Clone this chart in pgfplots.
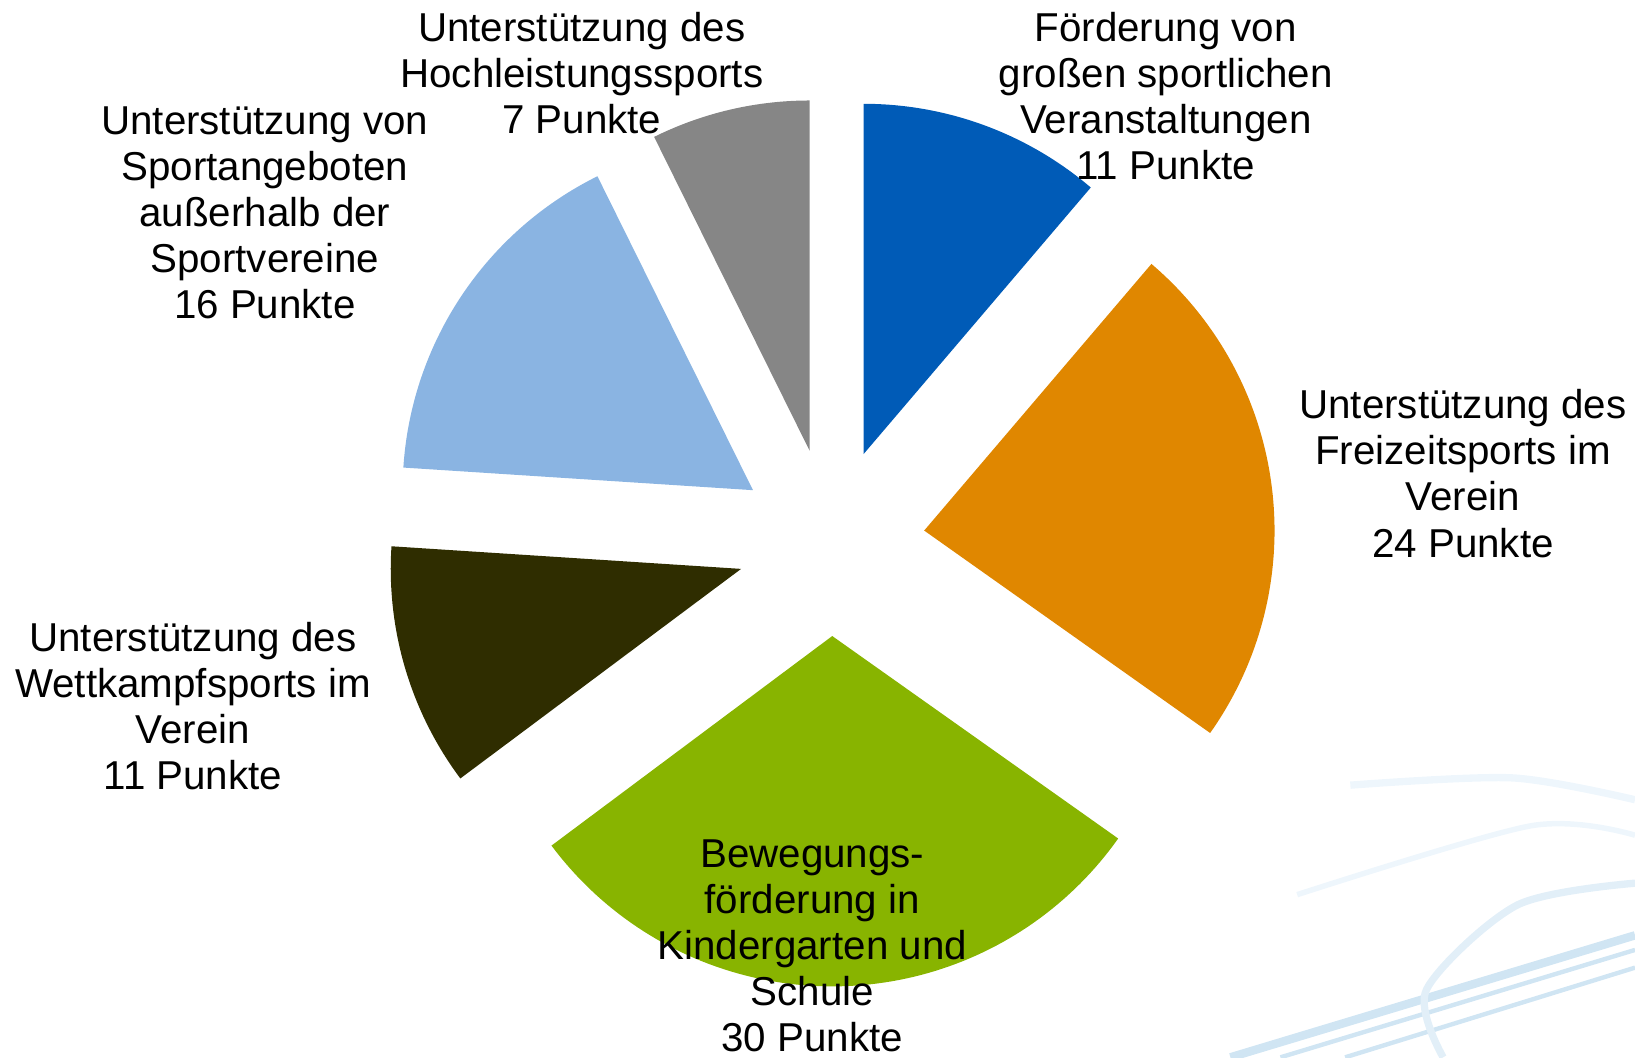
\documentclass[border=0pt]{standalone}
\usepackage{pgfplots}
\pgfplotsset{compat=1.18}
\usepackage{pgfplotstable}
\usepackage{fontspec}
\setmainfont{Liberation Sans}

\definecolor{cFoerd}{RGB}{0,91,183}
\definecolor{cFrei}{RGB}{224,135,0}
\definecolor{cBeweg}{RGB}{136,180,0}
\definecolor{cWett}{RGB}{47,45,0}
\definecolor{cAusser}{RGB}{138,180,226}
\definecolor{cHoch}{RGB}{134,134,134}
\definecolor{swA}{RGB}{208,229,243}
\definecolor{swB}{RGB}{226,239,248}
\definecolor{swC}{RGB}{238,246,252}

% slice sizes as drawn (labels show rounded points), clockwise from 12 o'clock
\pgfplotstableread{
value col
11.2 cFoerd
23.5 cFrei
29.9 cBeweg
11.2 cWett
16.6 cAusser
7.3 cHoch
}\piedata

\begin{document}
\begin{tikzpicture}[font=\fontsize{11}{12.6}\selectfont]
\begin{axis}[
    width=15.68cm, height=10.14cm, scale only axis,
    xmin=0, xmax=1568, ymin=0, ymax=1014,
    hide axis, clip=false,
]
\coordinate (ll) at (axis cs:0,0);
\coordinate (ur) at (axis cs:1568,1014);

% background swooshes
\draw[swA, line width=2.3pt] (axis cs:1180,0) -- (axis cs:1568,117);
\draw[swA, line width=1.2pt] (axis cs:1228,0) -- (axis cs:1568,103);
\draw[swA, line width=1.2pt] (axis cs:1290,0) -- (axis cs:1568,86);
\draw[swB, line width=2pt] plot[smooth] coordinates {(axis cs:1384,0) (axis cs:1368,65) (axis cs:1455,146) (axis cs:1568,167)};
\draw[swC, line width=2pt] plot[smooth] coordinates {(axis cs:1295,261) (axis cs:1450,268) (axis cs:1568,247)};
\draw[swC, line width=1.5pt] plot[smooth] coordinates {(axis cs:1244,156) (axis cs:1468,222) (axis cs:1568,213)};

% total
\def\tot{0}
\pgfplotsforeachungrouped \i in {0,...,5} {
  \pgfplotstablegetelem{\i}{value}\of\piedata
  \pgfmathsetmacro\tmp{\tot+\pgfplotsretval}
  \global\let\tot\tmp
}
% exploded pie
\def\cum{0}
\pgfplotsforeachungrouped \i in {0,...,5} {
  \pgfplotstablegetelem{\i}{value}\of\piedata \let\v\pgfplotsretval
  \pgfplotstablegetelem{\i}{col}\of\piedata \let\col\pgfplotsretval
  \pgfmathsetmacro\ts{\cum*(360/\tot)}
  \pgfmathsetmacro\cumnew{\cum+\v}
  \pgfmathsetmacro\te{\cumnew*(360/\tot)}
  \pgfmathsetmacro\ma{90-\te}
  \pgfmathsetmacro\mb{90-\ts}
  \pgfmathsetmacro\mm{90-(\ts+\te)/2}
  \pgfmathsetmacro\ox{797+90*cos(\mm)}
  \pgfmathsetmacro\oy{494+90*sin(\mm)}
  \edef\doslice{\noexpand\addplot[fill=\col, draw=none, domain=\ma:\mb, samples=90]
    ({\ox+336*cos(x)},{\oy+336*sin(x)}) -- (axis cs:\ox,\oy) -- cycle;}
  \doslice
  \global\let\cum\cumnew
}

\node[align=center, inner sep=0pt] at (axis cs:1118,922) {Förderung von\\großen sportlichen\\Veranstaltungen\\11 Punkte};
\node[align=center, inner sep=0pt] at (axis cs:1403,560) {Unterstützung des\\Freizeitsports im\\Verein\\24 Punkte};
\node[align=center, inner sep=0pt] at (axis cs:779,107) {Bewegungs-\\förderung in\\Kindergarten und\\Schule\\30 Punkte};
\node[align=center, inner sep=0pt] at (axis cs:185,337) {Unterstützung des\\Wettkampfsports im\\Verein\\11 Punkte};
\node[align=center, inner sep=0pt] at (axis cs:254,810) {Unterstützung von\\Sportangeboten\\außerhalb der\\Sportvereine\\16 Punkte};
\node[align=center, inner sep=0pt] at (axis cs:558,944) {Unterstützung des\\Hochleistungssports\\7 Punkte};
\end{axis}
\pgfresetboundingbox
\path (ll) rectangle (ur);
\end{tikzpicture}
\end{document}
